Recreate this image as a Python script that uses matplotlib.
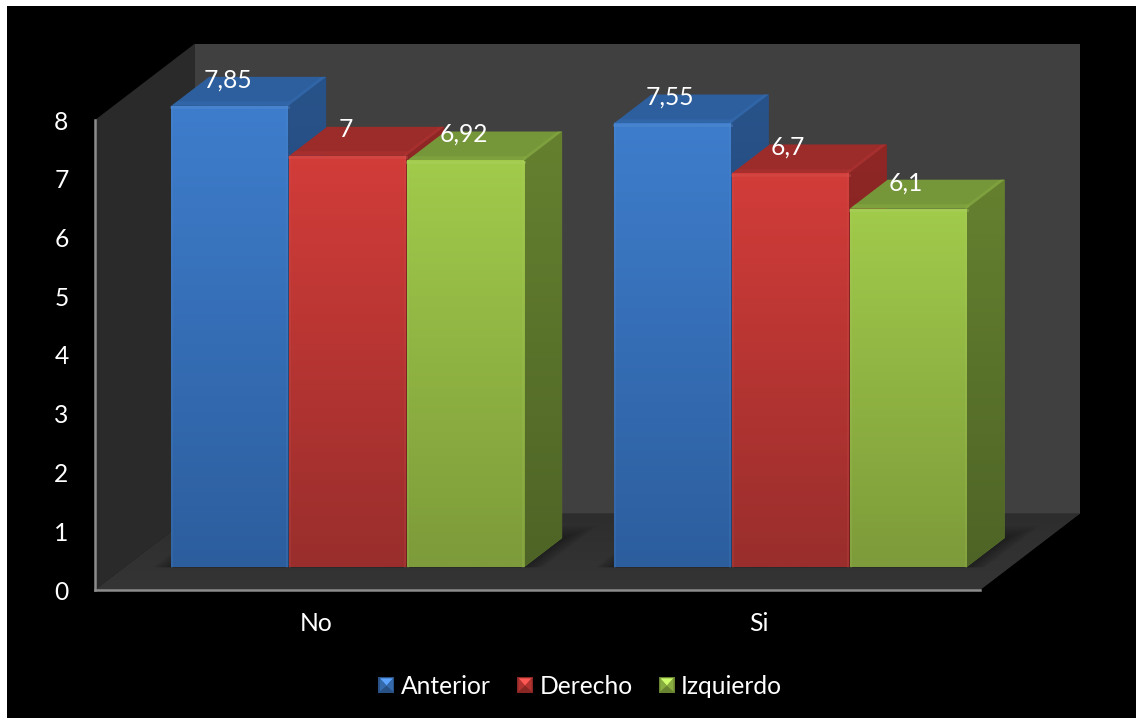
import numpy as np
import matplotlib
matplotlib.use('Agg')
import matplotlib.pyplot as plt
from matplotlib.patches import Polygon, Patch, Rectangle
from matplotlib.legend_handler import HandlerBase
from matplotlib.colors import to_rgb

# Datos
categorias = ['No', 'Si']
series = ['Anterior', 'Derecho', 'Izquierdo']
anterior = [7.85, 7.55]
derecho = [7, 6.7]
izquierdo = [6.92, 6.1]
etiquetas = [['7,85', '7,55'], ['7', '6,7'], ['6,92', '6,1']]
ticks_y = [0, 1, 2, 3, 4, 5, 6, 7, 8]

# Colores: frente arriba, frente abajo, tapa, lateral arriba, lateral abajo
colores = [
    ('#3E7DCC', '#2C5E9E', '#2D5F9E', '#28538A', '#1F416C'),
    ('#D23C39', '#992E2C', '#9B2C2A', '#8F2725', '#6F1F1D'),
    ('#A1CB4B', '#7D9B3A', '#76963A', '#65812F', '#4E6426'),
]

# Escala del grafico en pixeles
W, H = 1136, 720
X0, Y0 = 95, 590
PX_CAT = 442.5
PX_VAL = 58.75
FONDO_X, FONDO_Y = 100 / PX_CAT, 76.5 / PX_VAL  # desplazamiento de la profundidad
D_BARRA = 0.30
P_BARRA = 0.379
ANCHO = 117 / PX_CAT
PASO = 118 / PX_CAT
TOPE = 8
LETRA = 17.7


def proy(x, v, d=0.0):
    return (x + d * FONDO_X, v + d * FONDO_Y)


def degradado(ax, patch, c1, c2, z):
    # degradado vertical recortado a la forma
    c1, c2 = np.array(to_rgb(c1)), np.array(to_rgb(c2))
    t = np.linspace(0, 1, 128)[:, None, None]
    img = c1[None, None, :] * (1 - t) + c2[None, None, :] * t
    xy = patch.get_path().transformed(patch.get_patch_transform()).vertices
    ext = (xy[:, 0].min(), xy[:, 0].max(), xy[:, 1].min(), xy[:, 1].max())
    im = ax.imshow(img, extent=ext, origin='upper', aspect='auto', zorder=z, interpolation='bilinear')
    im.set_clip_path(patch)


def barra(ax, x, v, col, z):
    c1, c2, tapa, lat1, lat2 = col
    d0, d1 = D_BARRA, D_BARRA + P_BARRA
    x2 = x + ANCHO
    # lateral
    lat = Polygon([proy(x2, 0, d0), proy(x2, 0, d1), proy(x2, v, d1), proy(x2, v, d0)],
                  closed=True, facecolor=lat1, edgecolor='none', zorder=z)
    ax.add_patch(lat)
    degradado(ax, lat, lat1, lat2, z + 0.01)
    # tapa
    cara_tapa = Polygon([proy(x, v, d0), proy(x2, v, d0), proy(x2, v, d1), proy(x, v, d1)],
                        closed=True, facecolor=tapa, edgecolor='none', zorder=z + 0.02)
    ax.add_patch(cara_tapa)
    # brillo suave en las aristas de la tapa, sin salirse de ella
    arista = np.array(to_rgb(tapa)) * 0.6 + np.array(to_rgb(c1)) * 0.4
    l1, = ax.plot(*zip(proy(x2, v, d0), proy(x2, v, d1)), color=arista, lw=4, alpha=0.55,
                  zorder=z + 0.03, solid_capstyle='butt')
    l2, = ax.plot(*zip(proy(x, v, d0 + 0.02), proy(x2, v, d0 + 0.02)), color=arista, lw=4, alpha=0.5,
                  zorder=z + 0.03, solid_capstyle='butt')
    l1.set_clip_path(cara_tapa)
    l2.set_clip_path(cara_tapa)
    # frente
    fx, fy = proy(x, 0, d0)
    b = ax.bar(fx, v, width=ANCHO, bottom=fy, align='edge', color=c1, linewidth=0, zorder=z + 0.04)[0]
    degradado(ax, b, c1, c2, z + 0.05)
    # bisel del frente
    claro = np.array(to_rgb(c1)) * 0.85 + 0.15
    ax.plot([fx, fx + ANCHO], [fy + v - 0.025, fy + v - 0.025], color=claro, lw=2, alpha=0.35, zorder=z + 0.06)
    ax.plot([fx + 0.002, fx + 0.002], [fy, fy + v], color=claro, lw=1.5, alpha=0.15, zorder=z + 0.06)
    ax.plot([fx + ANCHO - 0.002, fx + ANCHO - 0.002], [fy, fy + v], color=claro, lw=1.5, alpha=0.15, zorder=z + 0.06)


def sombra(ax, x1, x2):
    # sombra difusa sobre el piso alrededor del grupo
    d0, d1 = D_BARRA, D_BARRA + P_BARRA
    for i in range(8):
        e = (8 - i) * 2.2 / PX_CAT
        ax.add_patch(Polygon([proy(x1 - e, 0, d0), proy(x2 + e, 0, d0),
                              proy(x2 + e, 0, d1 + 0.02 * (8 - i)), proy(x1 - e, 0, d1 + 0.02 * (8 - i))],
                             closed=True, facecolor='black', edgecolor='none', alpha=0.045, zorder=2))


class HandlerCubo(HandlerBase):
    # marcador de leyenda: cuadrado con la parte de arriba mas clara
    def create_artists(self, legend, orig_handle, xdescent, ydescent, width, height, fontsize, trans):
        col = orig_handle.get_facecolor()[:3]
        col = np.array(col)
        s = 16 * 72 / 100
        x0 = (width - s) / 2 - xdescent
        y0 = (height - s) / 2 - ydescent
        cx, cy = x0 + s / 2, y0 + s * 0.45
        caras = [
            ([(x0, y0), (x0 + s, y0), (x0 + s, y0 + s), (x0, y0 + s)], col * 0.65),
            ([(x0 + 1, y0 + s - 1), (x0 + s - 1, y0 + s - 1), (cx, cy)], np.minimum(col * 1.15 + 0.08, 1)),
            ([(x0 + 1, y0 + s - 1), (x0 + 1, y0 + 1), (cx, cy)], col * 0.85),
            ([(x0 + s - 1, y0 + s - 1), (x0 + s - 1, y0 + 1), (cx, cy)], col * 0.85),
        ]
        return [Polygon(p, closed=True, facecolor=c, edgecolor='none', transform=trans) for p, c in caras]


plt.rcParams['font.family'] = ['Lato', 'DejaVu Sans']

fig = plt.figure(figsize=(W / 100, H / 100), dpi=100, facecolor='white')
fig.add_artist(Rectangle((7 / W, 1 - 718 / H), 1 - 7 / W, (718 - 6) / H, transform=fig.transFigure,
                         facecolor='black', edgecolor='none', zorder=-5))
ax = fig.add_axes([0, 0, 1, 1])
ax.patch.set_alpha(0)

# paredes y piso
pared_izq = [proy(0, 0), proy(0, TOPE), proy(0, TOPE, 1), proy(0, 0, 1)]
pared_fondo = [proy(0, 0, 1), proy(0, TOPE, 1), proy(2, TOPE, 1), proy(2, 0, 1)]
piso = Polygon([proy(0, 0), proy(2, 0), proy(2, 0, 1), proy(0, 0, 1)], closed=True,
               facecolor='#313131', edgecolor='none', zorder=1)
ax.add_patch(Polygon(pared_fondo, closed=True, facecolor='#404040', edgecolor='none', zorder=1))
ax.add_patch(Polygon(pared_izq, closed=True, facecolor='#2A2A2A', edgecolor='none', zorder=1))
ax.add_patch(piso)
degradado(ax, piso, '#2D2D2D', '#353535', 1.1)

valores = [anterior, derecho, izquierdo]
for c in range(len(categorias)):
    x_ini = c + 0.5 - 1.5 * PASO + 2 / PX_CAT
    sombra(ax, x_ini, x_ini + 3 * PASO)
    for s in range(len(series)):
        x = x_ini + s * PASO
        v = valores[s][c]
        barra(ax, x, v, colores[s], 3 + s + 3 * c)
        px, py = proy(x + ANCHO / 2, v, D_BARRA)
        ax.annotate(etiquetas[s][c], (px, py), xytext=(-2 * 0.72, 26 * 0.72), textcoords='offset points',
                    ha='center', va='center', color='white', fontsize=LETRA, zorder=20)

# ejes
ax.set_xlim(-X0 / PX_CAT, (W - X0) / PX_CAT)
ax.set_ylim((Y0 - H) / PX_VAL, Y0 / PX_VAL)
for lado in ['top', 'right']:
    ax.spines[lado].set_visible(False)
ax.spines['left'].set_position(('data', 0))
ax.spines['left'].set_bounds(0, TOPE)
ax.spines['bottom'].set_position(('data', 0))
ax.spines['bottom'].set_bounds(0, 2)
for lado in ['left', 'bottom']:
    ax.spines[lado].set_color('#8C8C8C')
    ax.spines[lado].set_linewidth(1.8)
    ax.spines[lado].set_zorder(10)
ax.set_yticks(ticks_y)
ax.set_xticks([c + 0.5 for c in range(len(categorias))])
ax.set_xticklabels(categorias)
ax.tick_params(axis='y', length=0, pad=19, labelsize=LETRA, labelcolor='white')
ax.tick_params(axis='x', length=0, pad=16, labelsize=LETRA, labelcolor='white')

# leyenda
manejadores = [Patch(facecolor=colores[i][0], label=series[i]) for i in range(len(series))]
fig.legend(handles=manejadores, loc='center', bbox_to_anchor=(580 / W, 1 - 686 / H), ncols=3, frameon=False,
           fontsize=LETRA, labelcolor='white', handler_map={Patch: HandlerCubo()},
           handlelength=0.7, handleheight=0.7, handletextpad=0.23, columnspacing=1.05)

fig.savefig('out.png', dpi=100, facecolor='white')
